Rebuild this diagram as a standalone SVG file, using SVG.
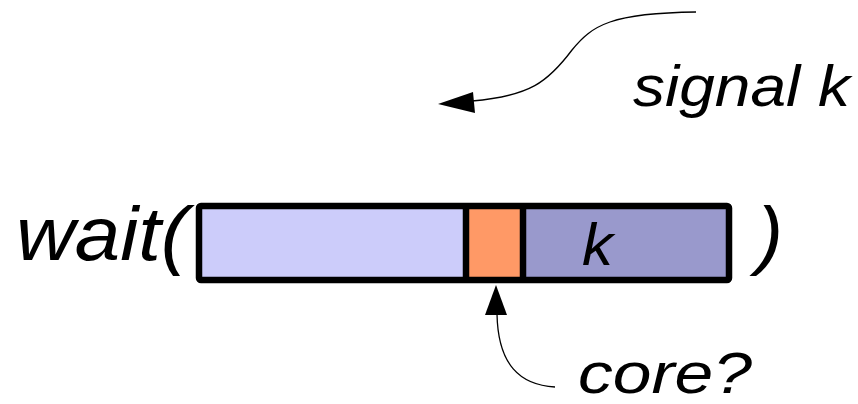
<svg xmlns="http://www.w3.org/2000/svg" width="858" height="404" viewBox="0 0 858 404">
<style>
.t{font-family:"Liberation Sans",Arial,sans-serif;font-style:italic;fill:#000}
.c{fill:none;stroke:#000;stroke-width:1.3}
.seg{stroke:#000;stroke-width:6.5}
</style>
<rect width="858" height="404" fill="#fff"/>
<g id="wait"><text class="t" x="16" y="260" font-size="76" textLength="172" lengthAdjust="spacingAndGlyphs">wait(</text></g>
<g id="close"><text class="t" x="757" y="260" font-size="76" textLength="26" lengthAdjust="spacingAndGlyphs">)</text></g>
<g id="bar">
<rect x="199" y="206" width="267" height="74" fill="#ccccfa"/>
<rect x="466" y="206" width="57" height="74" fill="#ff9966"/>
<rect x="523" y="206" width="206" height="74" fill="#9999cc"/>
<rect class="seg" x="199" y="206" width="530" height="74" rx="2" fill="none"/>
<line class="seg" x1="466" y1="206" x2="466" y2="280"/>
<line class="seg" x1="523" y1="206" x2="523" y2="280"/>
<text class="t" x="582" y="265" font-size="60" textLength="31" lengthAdjust="spacingAndGlyphs">k</text>
</g>
<g id="signal"><text class="t" x="633" y="106" font-size="58" textLength="217" lengthAdjust="spacingAndGlyphs">signal k</text></g>
<g id="core"><text class="t" x="578" y="393" font-size="58" textLength="174" lengthAdjust="spacingAndGlyphs">core?</text></g>
<g id="connectors">
<path class="c" d="M696,12 C612,13 592,25 572,50 C548,82 530,96 472,101"/>
<polygon points="438,104 473,92 475,113" fill="#000"/>
<path class="c" d="M555,387 C520,385 498,365 497,314"/>
<polygon points="496,285 485,315 507,315" fill="#000"/>
</g>
</svg>
